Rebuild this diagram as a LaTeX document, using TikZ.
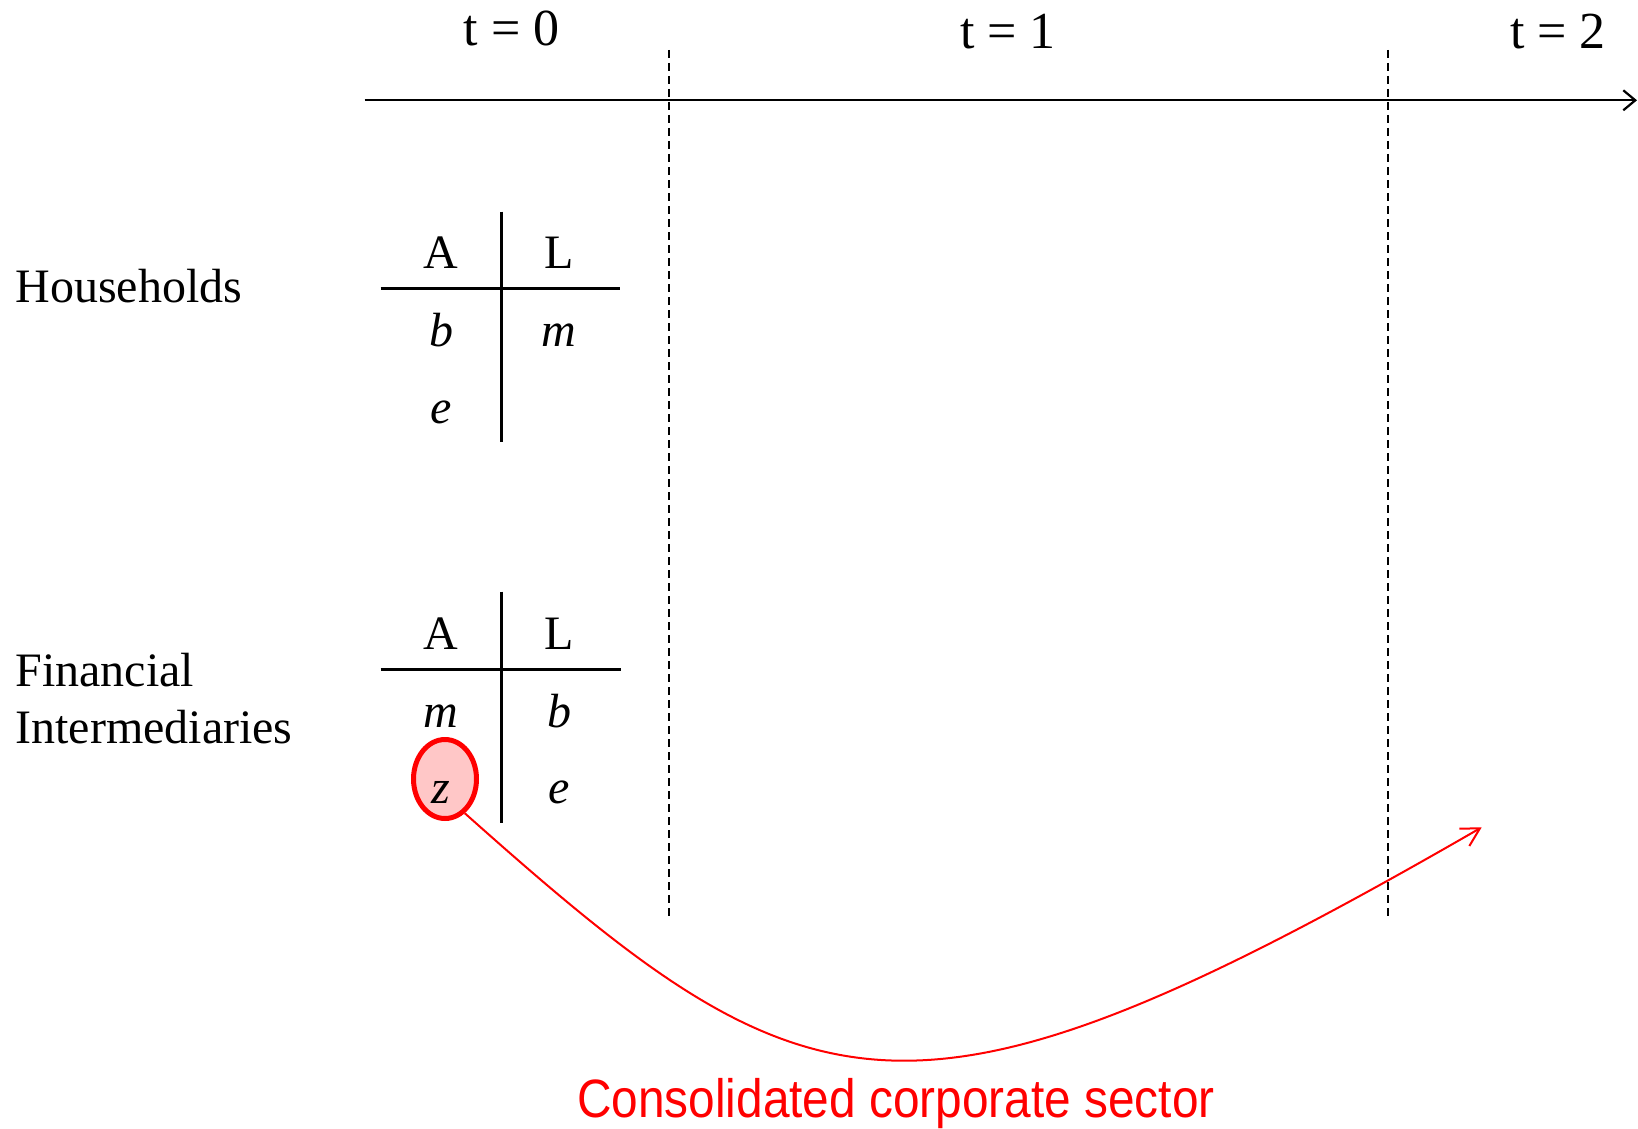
\documentclass[tikz,border=0pt]{standalone}
\usepackage{fontspec}
\usepackage{graphicx}
\setmainfont{Liberation Serif}
\newfontfamily\labelsans{Liberation Sans}
\usetikzlibrary{arrows.meta,shapes.geometric}
\begin{document}
\begin{tikzpicture}[x=0.5pt,y=-0.5pt,
  txt/.style={inner sep=0pt, font=\fontsize{24}{28.35}\selectfont},
  ttxt/.style={inner sep=0pt, font=\fontsize{26}{30}\selectfont},
  var/.style={inner sep=0pt, anchor=base, font=\fontsize{24}{28}\selectfont\itshape},
  hdr/.style={inner sep=0pt, anchor=base, font=\fontsize{24}{28}\selectfont},
  tacc/.style={line width=1.5pt},
  period/.style={line width=1pt, dash pattern=on 4pt off 2.5pt},
  axisline/.style={line width=1.1pt, -{Straight Barb[length=6pt,width=10pt]}},
  flow/.style={red, line width=1pt, -{Straight Barb[length=9pt,width=10pt]}},
  zmark/.style={ellipse, draw=red, fill=red!22, line width=2.5pt, minimum width=31.5pt, minimum height=39.5pt, inner sep=0pt},
]
\useasboundingbox (0,0) rectangle (1638,1129);

% timeline
\coordinate (ax0) at (364.6,100.3);
\coordinate (ax1) at (1637,100.3);
\draw[axisline] (ax0) -- (ax1);

\node[ttxt] (t0) at (511.7,28.5) {t = 0};
\node[ttxt] (t1) at (1008,32) {t = 1};
\node[ttxt] (t2) at (1558,32) {t = 2};

% period separators
\coordinate (d1a) at (668.5,50);
\coordinate (d1b) at (668.5,917);
\coordinate (d2a) at (1388.3,50);
\coordinate (d2b) at (1388.3,917);
\draw[period] (d1a) -- (d1b);
\draw[period] (d2a) -- (d2b);

% sector labels
\node[txt, anchor=base west] (hh) at (15,302.7) {Households};
\node[txt, anchor=west, align=left] (fi) at (15,698.6) {Financial\\Intermediaries};

% households balance sheet
\coordinate (hvt) at (501.7,211.7);
\coordinate (hvb) at (501.7,441.7);
\coordinate (hhl) at (380.7,288.3);
\coordinate (hhr) at (620,288.3);
\draw[tacc] (hvt) -- (hvb);
\draw[tacc] (hhl) -- (hhr);
\node[hdr] (hA) at (441,268.7) {A};
\node[hdr] (hL) at (559,268.7) {L};
\node[var] (hb) at (441,346) {b};
\node[var] (hm) at (559,346) {m};
\node[var] (he) at (441,423.5) {e};

% financial intermediaries balance sheet
\coordinate (fvt) at (501.7,591.7);
\coordinate (fvb) at (501.7,823.3);
\coordinate (fhl) at (380.7,669.3);
\coordinate (fhr) at (620.7,669.3);
\draw[tacc] (fvt) -- (fvb);
\draw[tacc] (fhl) -- (fhr);
\node[hdr] (fA) at (441,649) {A};
\node[hdr] (fL) at (559,649) {L};
\node[var] (fm) at (441,727) {m};
\node[var] (fb) at (559,727) {b};
\node[zmark] (zc) at (445,779) {};
\node[var] (fz) at (441,803) {z};
\node[var] (fe) at (559,803) {e};

% flow to t = 2
\coordinate (flowend) at (1481.7,827.3);
\draw[flow] (zc.-60) .. controls (809,1120) and (905,1160) .. (flowend);

\node[anchor=base, text=red, inner sep=0pt, font=\labelsans\fontsize{27}{32}\selectfont] (cs) at (896,1117) {\scalebox{0.885}[1]{Consolidated corporate sector}};
\end{tikzpicture}
\end{document}
